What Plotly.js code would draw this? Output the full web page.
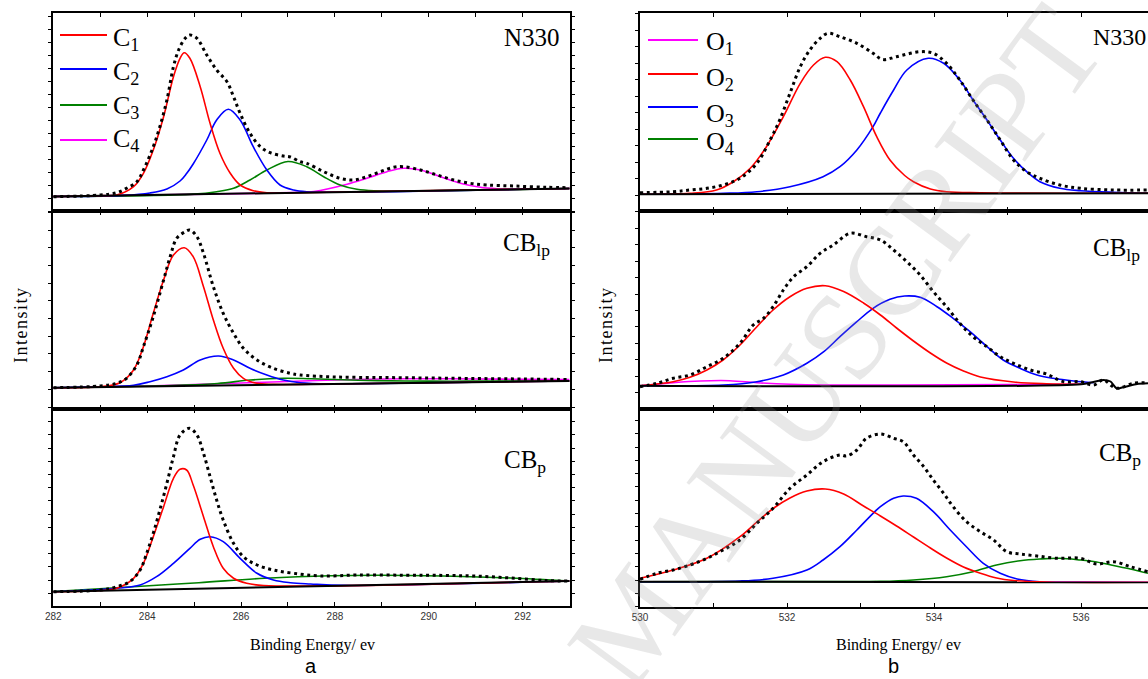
<!DOCTYPE html>
<html><head><meta charset="utf-8">
<script src="https://cdn.plot.ly/plotly-3.0.1.min.js"></script>
<style>html,body{margin:0;padding:0;background:#fff;} #chart{width:1148px;height:679px;}</style>
</head><body><div id="chart"></div>
<script>
// ---------- (a) C 1s : N330 ----------
const a1DataE = [282.0,283.0,283.35,283.56,283.78,283.92,284.13,284.27,284.42,284.56,284.67,284.81,284.91,285.06,285.27,285.48,285.7,285.84,285.98,286.19,286.41,286.62,286.9,287.05,287.26,287.4,287.76,288.11,288.4,288.68,288.97,289.25,289.46,289.82,290.18,290.53,290.88,291.24,291.81,292.52,293.0];
const a1Data  = [14.3,16,18.3,22.7,29.3,41,64.3,84.3,111,144.3,161,172.7,176,172.7,156,141,129.3,114.3,97.7,77.7,64.3,58.3,55,54,49.3,47.7,39.3,32.7,31,34.3,39.3,43.7,44.3,41,36,31,27.7,26,25,23.7,23.3];
const a1C1E = [282,283.0,283.35,283.71,283.92,284.13,284.35,284.56,284.7,284.79,284.91,285.13,285.34,285.55,285.77,285.98,286.26,286.55,287.5,293];
const a1C1  = [14.5,15.3,16,24.3,37.7,61,94.3,134.3,152.7,158.3,152.7,124.3,87.7,57.7,37.7,26,20.3,18.3,18.5,22.5];
const a1C2E = [282,283.5,284.06,284.42,284.7,284.84,284.98,285.27,285.48,285.73,285.98,286.26,286.55,286.83,287.12,287.4,288,293];
const a1C2  = [14.5,15.6,18,22,30,37.5,47,71,91,101.7,91,64.3,41,26,21,19.3,18.9,22.5];
const a1C3E = [282,285.0,285.48,285.84,286.19,286.55,287.0,287.4,287.76,288.11,288.47,288.83,293];
const a1C3  = [14.5,16.9,19.3,22.7,31,41,49.5,44.3,34.3,26,21.7,20.3,22.5];
const a1C4E = [282,286.5,287.2,287.55,288.26,288.68,289.11,289.46,289.82,290.25,290.67,291.1,291.45,292,293];
const a1C4  = [14.5,17.8,18.6,19.5,26.7,32.7,39.3,42.7,41,34.3,27.7,23.7,22.3,21.9,22.5];
const a1BaseE = [282,293];
const a1Base  = [14.5,22.5];

// ---------- (a) C 1s : CBlp ----------
const a2DataE = [282.0,283.0,283.35,283.56,283.78,283.92,284.13,284.35,284.49,284.63,284.81,284.91,285.06,285.2,285.41,285.62,285.84,286.05,286.34,286.69,287.05,287.26,288,289,290,291,292,293];
const a2Data  = [21.3,23,25.7,30.7,44,62.3,92.3,129,152.3,170.7,177.3,179,172.3,155.7,122.3,95.7,75.7,60.7,49,40.7,35.7,34,32,31.5,31,30.5,30,29.5];
const a2C1E = [282,283.0,283.42,283.71,283.92,284.13,284.35,284.56,284.79,284.98,285.2,285.41,285.62,285.84,286.05,286.34,286.69,287.5,293];
const a2C1  = [21.3,22.3,26.3,39,62.3,95.7,129,154,161.3,152.3,122.3,89,60.7,40.7,30.7,25.7,24.7,24.7,28];
const a2C2E = [282,283.0,283.71,284.06,284.42,284.77,285.13,285.52,285.84,286.19,286.55,286.9,287.26,288,289,293];
const a2C2  = [21.3,22.2,23.7,27.3,32.3,39,49,53,49,40.7,34,29,26.3,25.2,25.6,28];
const a2C3E = [282,283.5,284.5,285.5,286.2,286.9,287.5,288.5,289.5,290.5,291.5,293];
const a2C3  = [21.3,22.5,23.5,25.5,29,30.7,30.2,28.8,28,27.8,28,28.3];
const a2C4E = [282,284,285,286,287,288,289,290,291,292,293];
const a2C4  = [21.3,23,24.5,26,27.5,29,30,30.3,30,29.7,29.5];
const a2BaseE = [282,293];
const a2Base  = [21.3,28];

// ---------- (a) C 1s : CBp ----------
const a3DataE = [282.0,283.0,283.35,283.63,283.85,283.99,284.13,284.27,284.42,284.56,284.7,284.9,285.06,285.2,285.34,285.48,285.62,285.84,286.05,286.34,286.69,287.12,287.69,288.5,289.5,290.3,291.0,291.75,292.5,293.0];
const a3Data  = [14.3,16,19.3,24.3,36,52.7,72.7,96,122.7,149.3,171,177.7,171,152.7,129.3,106,86,62.7,49.3,41,36,32.7,30,31,30.8,30.6,29.9,28,25.4,25];
const a3C1E = [282,283.0,283.35,283.71,283.92,284.13,284.35,284.56,284.7,284.84,284.98,285.2,285.41,285.62,285.84,286.12,286.48,287.5,293];
const a3C1  = [14.3,15.5,17.7,27.7,42.7,69.3,99.3,127.7,136.7,136,121,89.3,59.3,37.7,27.7,22.7,20.5,19.9,25];
const a3C2E = [282,283.35,283.85,284.2,284.56,284.91,285.13,285.34,285.62,285.98,286.34,286.69,287.05,287.48,288.2,293];
const a3C2  = [14.3,17.7,21,29.3,42.7,57.7,66.7,69.3,64.3,47.7,32.7,26,23.3,22,20.6,25];
const a3C3E = [282,283.7,285.1,286.5,287.9,289,290.3,291.75,293];
const a3C3  = [14.5,19.3,23.3,27.7,30.3,30.8,30,28,25];
const a3BaseE = [282,293];
const a3Base  = [14.3,25];

// ---------- (b) O 1s : N330 ----------
const b1DataE = [530.0,530.45,530.68,530.91,531.13,531.36,531.59,531.77,531.9,532.04,532.18,532.31,532.45,532.56,532.72,532.95,533.17,533.3,533.49,533.81,533.99,534.17,534.35,534.53,534.72,534.9,535.08,535.26,535.44,535.71,535.99,536.44,536.91];
const b1Data  = [18.3,19.3,21,22.7,26,32.7,47.7,71,91,117.7,144.3,161,172.7,177.7,174.3,167.7,157.7,151.5,154.3,159.3,157.7,147.7,131,111,91,71,51,39.3,32.7,26,22.7,21,21];
const b1O2E = [530.0,530.68,531.04,531.27,531.5,531.72,531.95,532.18,532.36,532.52,532.68,532.86,533.04,533.22,533.4,533.6,533.72,533.95,534.17,534.63,536.91];
const b1O2  = [16.7,17.7,21,29.3,42.7,64.3,94.3,127.7,146,153.7,149.3,131,104.3,74.3,51,35.5,29.3,22,19.3,18.3,17.8];
const b1O3E = [530.0,531.13,531.59,532.04,532.49,532.72,532.95,533.17,533.27,533.45,533.63,533.92,534.13,534.35,534.53,534.72,534.9,535.08,535.26,535.44,535.71,535.99,536.44,536.91];
const b1O3  = [16.7,17.7,19.3,24.3,34.3,44.3,61,84.3,98,121,141,152.7,147.7,131,111,91,71,52.7,39.3,29.3,22.7,20.3,18.7,17.8];
const b1BaseE = [530,536.91];
const b1Base  = [16.7,17.7];

// ---------- (b) O 1s : CBlp ----------
const b2DataE = [530.0,530.23,530.45,530.68,530.91,531.13,531.36,531.54,531.68,531.81,531.95,532.09,532.27,532.45,532.63,532.86,533.08,533.27,533.45,533.63,533.81,533.99,534.17,534.35,534.53,534.72,534.9,535.08,535.31,535.53,535.76,535.99,536.17,536.3,536.48,536.71,536.91];
const b2Data  = [22.3,25.7,30.7,34,42.3,50.7,65.7,84,90.7,102.3,119,132.3,142.3,155.7,164,175.7,172.3,169,159,147.3,134,117.3,102.3,85.7,72.3,62.3,52.3,45.7,39,35,27.3,27.3,24,29,20.7,25.7,26.3];
const b2O1E = [530.0,530.45,530.82,531.22,531.59,532.04,532.5,533.5,535,536.0];
const b2O1  = [23.3,26.3,28,28.3,26.3,24.7,24,24,24.5,24.7];
const b2O2E = [530.0,530.45,530.68,530.91,531.13,531.36,531.59,531.81,532.04,532.27,532.52,532.77,533.04,533.27,533.49,533.72,533.95,534.17,534.4,534.63,535.08,535.53,536.0];
const b2O2  = [23.3,27.3,31.7,39,49,64,82.3,99,112.3,120.7,123.3,117.5,106,94,81,68,56,46,38,32,27,25.3,24.8];
const b2O3E = [530.0,531.13,531.59,531.95,532.27,532.5,532.72,532.95,533.17,533.4,533.6,533.81,534.04,534.26,534.49,534.72,534.94,535.17,535.4,535.62,535.9,536.17];
const b2O3  = [23.3,24,27.3,34,45.7,57.3,72.3,87.3,100.7,109.7,113,111.7,102.3,90.7,77.3,62.3,49,40.7,34,30.7,28,26.3];
const b2BaseE = [530,536.0,536.3,536.4,536.48,536.6,536.76,536.91];
const b2Base  = [23.3,24.7,29,27.5,20.7,22.3,25,25.7];

// ---------- (b) O 1s : CBp ----------
const b3DataE = [530.0,530.23,530.45,530.68,530.91,531.13,531.36,531.59,531.81,532.04,532.27,532.49,532.72,532.81,532.95,533.08,533.27,533.45,533.58,533.72,533.86,533.99,534.13,534.26,534.44,534.63,534.81,534.99,535.17,535.4,535.67,535.99,536.21,536.44,536.67,536.91];
const b3Data  = [27.7,33.7,37,42,48.7,57,67,83.7,98.7,118.7,132,145.3,152,151,157,168.7,173,168.7,165.3,152,140.3,127,113.7,100.3,85.3,75.3,67,55.3,53,51,48.7,48.7,43,45.3,40.3,35.3];
const b3O2E = [530.0,530.45,530.91,531.36,531.59,531.81,532.04,532.27,532.52,532.77,533.04,533.27,533.49,533.72,533.95,534.17,534.4,534.63,534.85,535.08,535.53,536.91];
const b3O2  = [28.7,37,48.7,70.3,85,98.5,109,116,118,113,101,91,81,70,59,49,40,33.7,29,26.5,25,24.7];
const b3O3E = [530.0,531.36,531.81,532.27,532.49,532.72,532.95,533.17,533.27,533.45,533.58,533.76,533.99,534.22,534.44,534.67,534.9,535.13,535.44,536.0,536.91];
const b3O3  = [25.3,26,28.7,37,47,60.3,77,93.7,100.3,108.7,111,108.7,95.3,77,60.3,43.7,33.7,28,25.3,25,24.7];
const b3O4E = [530.0,532.0,533.27,533.72,534.17,534.53,534.85,535.17,535.44,535.71,535.99,536.21,536.44,536.67,536.91];
const b3O4  = [25.3,25.4,25.6,27,30.3,35.3,42,46.3,48,48.7,47,45,41.5,38,33.7];
const b3BaseE = [530,536.91];
const b3Base  = [25.3,24.7];

// ---------- ticks & labels ----------
const xTicksA = [282,284,286,288,290,292];
const xTextA  = ['282','284','286','288','290','292'];
const xTicksB = [530,532,534,536];
const xTextB  = ['530','532','534','536'];
const legendC = ['C<sub>1</sub>','C<sub>2</sub>','C<sub>3</sub>','C<sub>4</sub>'];
const legendO = ['O<sub>1</sub>','O<sub>2</sub>','O<sub>3</sub>','O<sub>4</sub>'];
const sampleNames = ['N330','CB<sub>lp</sub>','CB<sub>p</sub>'];

const RED='#ff0000', BLUE='#0000ff', GREEN='#008000', MAG='#ff00ff', BLK='#000000';
const W=1148, H=679;
const SERIF='Liberation Serif, Times New Roman, serif';

const traces=[];
function comp(x,y,color,ax){traces.push({x:x,y:y,xaxis:'x'+ax,yaxis:'y'+ax,mode:'lines',type:'scatter',
  line:{color:color,width:1.6,shape:'spline',smoothing:1},hoverinfo:'skip',showlegend:false});}
function base(x,y,ax){traces.push({x:x,y:y,xaxis:'x'+ax,yaxis:'y'+ax,mode:'lines',type:'scatter',
  line:{color:BLK,width:2,shape:'spline',smoothing:0.6},hoverinfo:'skip',showlegend:false});}
function dots(x,y,ax){traces.push({x:x,y:y,xaxis:'x'+ax,yaxis:'y'+ax,mode:'lines',type:'scatter',
  line:{color:BLK,width:3,dash:'3px,3.6px',shape:'spline',smoothing:1},hoverinfo:'skip',showlegend:false});}

// panel a
comp(a1C4E,a1C4,MAG,''); comp(a1C3E,a1C3,GREEN,''); comp(a1C2E,a1C2,BLUE,''); comp(a1C1E,a1C1,RED,'');
base(a1BaseE,a1Base,''); dots(a1DataE,a1Data,'');
comp(a2C4E,a2C4,MAG,'2'); comp(a2C3E,a2C3,GREEN,'2'); comp(a2C2E,a2C2,BLUE,'2'); comp(a2C1E,a2C1,RED,'2');
base(a2BaseE,a2Base,'2'); dots(a2DataE,a2Data,'2');
comp(a3C3E,a3C3,GREEN,'3'); comp(a3C2E,a3C2,BLUE,'3'); comp(a3C1E,a3C1,RED,'3');
base(a3BaseE,a3Base,'3'); dots(a3DataE,a3Data,'3');
// panel b
comp(b1O3E,b1O3,BLUE,'4'); comp(b1O2E,b1O2,RED,'4');
base(b1BaseE,b1Base,'4'); dots(b1DataE,b1Data,'4');
comp(b2O1E,b2O1,MAG,'5'); comp(b2O3E,b2O3,BLUE,'5'); comp(b2O2E,b2O2,RED,'5');
base(b2BaseE,b2Base,'5'); dots(b2DataE,b2Data,'5');
comp(b3O4E,b3O4,GREEN,'6'); comp(b3O3E,b3O3,BLUE,'6'); comp(b3O2E,b3O2,RED,'6');
base(b3BaseE,b3Base,'6'); dots(b3DataE,b3Data,'6');

// geometry (pixels -> paper)
const px=v=>v/W, py=v=>1-v/H;
const colA=[px(53.3),px(569.6)], colB=[px(640),1];
const rowsA=[[13,211],[211,409],[409,606]];
const rowsB=[[13,211],[211,409],[409,607]];
const tickCfg=[[0,13],[2,17.7],[12.7,13.2],[16,16.5],[16.3,16.44],[0.4,13.3]];

const layout={width:W,height:H,margin:{l:0,r:0,t:0,b:0},paper_bgcolor:'#fff',plot_bgcolor:'rgba(0,0,0,0)',
  showlegend:false,shapes:[],annotations:[]};

for(let i=0;i<6;i++){
  const left=i<3, r=i%3;
  const sfx=i===0?'':String(i+1);
  const rows=left?rowsA:rowsB;
  const dom=[py(rows[r][1]),py(rows[r][0])];
  layout['xaxis'+sfx]={domain:left?colA:colB,range:left?[282,293]:[530,536.91],anchor:'y'+sfx,
    showline:true,linewidth:2,linecolor:BLK,mirror:'allticks',ticks:'inside',ticklen:4,tickwidth:1,tickcolor:BLK,
    tickmode:'array',tickvals:left?xTicksA:xTicksB,ticktext:left?xTextA:xTextB,
    minor:{tickmode:'linear',tick0:left?282:530,dtick:1,ticks:'inside',ticklen:4,tickwidth:1,tickcolor:BLK,showgrid:false},
    showticklabels:r===2,tickfont:{family:'Liberation Sans Narrow, Arial Narrow, Liberation Sans, sans-serif',size:10,color:'#333'},
    showgrid:false,zeroline:false,fixedrange:true};
  layout['yaxis'+sfx]={domain:dom,range:[0,rows[r][1]-rows[r][0]],anchor:'x'+sfx,
    showline:true,linewidth:2,linecolor:BLK,mirror:left?'ticks':false,ticks:'outside',ticklen:3,tickwidth:1,tickcolor:BLK,
    tick0:tickCfg[i][0],dtick:tickCfg[i][1],showticklabels:false,showgrid:false,zeroline:false,fixedrange:true};
}

const A=layout.annotations, S=layout.shapes;
function txt(t,x,y,size,opts){A.push(Object.assign({text:t,x:px(x),y:py(y),xref:'paper',yref:'paper',showarrow:false,
  xanchor:'center',yanchor:'middle',font:{family:SERIF,size:size,color:BLK}},opts||{}));}

// legends
const legCY=[38.5,73,106.5,140.5], legCL=[35,69,105,140];
const legOY=[43,79,114.5,143], legOL=[40,74,107,139];
const colC=[RED,BLUE,GREEN,MAG], colO=[MAG,RED,BLUE,GREEN];
for(let k=0;k<4;k++){
  S.push({type:'line',xref:'paper',yref:'paper',x0:px(60),x1:px(107),y0:py(legCL[k]),y1:py(legCL[k]),line:{color:colC[k],width:2}});
  txt(legendC[k],111,legCY[k],26,{xanchor:'left'});
  S.push({type:'line',xref:'paper',yref:'paper',x0:px(648),x1:px(698),y0:py(legOL[k]),y1:py(legOL[k]),line:{color:colO[k],width:2}});
  txt(legendO[k],704,legOY[k],26,{xanchor:'left'});
}
// sample labels
txt(sampleNames[0],532,37,25); txt(sampleNames[1],526,244,25); txt(sampleNames[2],525,461,25);
txt(sampleNames[0],1119,37,24); txt(sampleNames[1],1116,249,25); txt(sampleNames[2],1120,455,25);
// axis titles
const yTitle='I\u200An\u200At\u200Ae\u200An\u200As\u200Ai\u200At\u200Ay';
txt(yTitle,21,326,18,{textangle:-90}); txt(yTitle,606,326,18,{textangle:-90});
txt('Binding Energy/ ev',312,645,16); txt('Binding Energy/ ev',898,645,16);
txt('a',311,666,20,{font:{family:'Liberation Sans, Arial, sans-serif',size:20,color:BLK}});
txt('b',893,666,20,{font:{family:'Liberation Sans, Arial, sans-serif',size:20,color:BLK}});
// watermark
txt('MANUSCRIPT',836,347,125,{textangle:-53.6,font:{family:SERIF,size:125,color:'rgba(150,150,150,0.22)'}});

Plotly.newPlot('chart',traces,layout,{displayModeBar:false,staticPlot:true});
</script></body></html>
